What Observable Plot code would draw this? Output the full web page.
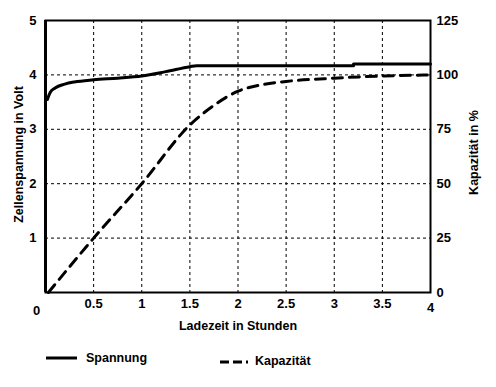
<!DOCTYPE html>
<html>
<head>
<meta charset="utf-8">
<script src="https://cdn.jsdelivr.net/npm/d3@7"></script>
<script src="https://cdn.jsdelivr.net/npm/@observablehq/plot@0.6"></script>
<style>
  body { margin: 0; background: #fff; }
  #chart { width: 496px; }
  .legend { position: relative; height: 52px; font: bold 12px "Liberation Sans", Arial, sans-serif; }
  .legend svg { position: absolute; left: 0; top: 0; }
</style>
</head>
<body>
<div id="chart"></div>
<script>
// Data
const spannungT = [0.02, 0.05, 0.1, 0.2, 0.3, 0.5, 0.75, 1.0, 1.25, 1.5, 1.57, 3.2, 3.2, 4.0];
const spannungV = [3.55, 3.68, 3.76, 3.83, 3.87, 3.91, 3.94, 3.98, 4.06, 4.15, 4.17, 4.17, 4.2, 4.2];
const kapazitaetT = [0.03, 0.5, 1.0, 1.5, 1.75, 2.0, 2.25, 2.5, 3.0, 3.5, 4.0];
const kapazitaetP = [0, 25, 50, 77, 86, 92.5, 95.5, 97, 98.5, 99.5, 100];
const xTicks = [0.5, 1, 1.5, 2, 2.5, 3, 3.5];
const yTicks = [1, 2, 3, 4, 5];
const pTicks = [0, 25, 50, 75, 100, 125];
const xLabel = "Ladezeit in Stunden";
const yLabel = "Zellenspannung in Volt";
const pLabel = "Kapazität in %";
const seriesNames = ["Spannung", "Kapazität"];

const volt = spannungT.map((t, i) => ({t, v: spannungV[i]}));
const kap = kapazitaetT.map((t, i) => ({t, p: kapazitaetP[i]}));
const pToV = p => p / 25; // 125 % maps to 5 V

const numFont = `"Liberation Sans Narrow", "Liberation Sans", Arial, sans-serif`;

const chart = Plot.plot({
  width: 496,
  height: 335,
  marginLeft: 45,
  marginRight: 66,
  marginTop: 20,
  marginBottom: 43,
  style: {fontFamily: `"Liberation Sans", Arial, sans-serif`, fontSize: "12px", fontWeight: "bold", color: "#000", background: "#fff"},
  x: {domain: [0, 4]},
  y: {domain: [0, 5]},
  marks: [
    Plot.gridX(xTicks, {stroke: "#000", strokeOpacity: 1, strokeDasharray: "3,3", strokeWidth: 1}),
    Plot.gridY([1, 2, 3, 4], {stroke: "#000", strokeOpacity: 1, strokeDasharray: "3,3", strokeWidth: 1}),
    Plot.line(kap, {x: "t", y: d => pToV(d.p), stroke: "#000", strokeWidth: 3, strokeDasharray: "10,7", curve: "monotone-x"}),
    Plot.line(volt, {x: "t", y: "v", stroke: "#000", strokeWidth: 3, curve: "monotone-x"}),
    Plot.frame({stroke: "#000", strokeWidth: 2}),
    Plot.ruleX([0], {stroke: "#000", strokeWidth: 3}),
    Plot.axisX(xTicks, {tickSize: 0, tickPadding: 6, tickFormat: d => String(d), fontFamily: numFont, fontSize: 13, label: null}),
    Plot.text([0], {x: d => d, y: 0, text: d => String(d), dx: -9, dy: 13, fontFamily: numFont, fontSize: 13, textAnchor: "middle", lineAnchor: "top", fontWeight: "bold"}),
    Plot.text([4], {x: d => d, y: 0, text: d => String(d), dy: 10, fontFamily: numFont, fontSize: 13, lineAnchor: "top", fontWeight: "bold"}),
    Plot.axisY(yTicks, {tickSize: 0, tickPadding: 9, tickFormat: d => String(d), fontFamily: numFont, fontSize: 13, label: null}),
    Plot.axisY(pTicks.map(pToV), {anchor: "right", tickSize: 0, tickPadding: 6, tickFormat: d => String(Math.round(d * 25)), fontFamily: numFont, fontSize: 13, label: null}),
    Plot.text([xLabel], {frameAnchor: "bottom", dy: 37, fontSize: 12.5, fontWeight: "bold", lineAnchor: "bottom"}),
    Plot.text([yLabel], {frameAnchor: "left", dx: -27, dy: -2, rotate: -90, textAnchor: "middle", fontSize: 12.5, fontWeight: "bold"}),
    Plot.text([pLabel], {frameAnchor: "right", dx: 43, dy: -4, rotate: -90, textAnchor: "middle", fontSize: 12.5, fontWeight: "bold"})
  ]
});

const root = document.getElementById("chart");
root.appendChild(chart);

// Legend below the chart
const legend = document.createElement("div");
legend.className = "legend";
legend.innerHTML = `<svg width="496" height="52">
  <line x1="46" x2="77" y1="23" y2="23" stroke="#000" stroke-width="3"/>
  <text x="86" y="27" font-family="Liberation Sans, Arial, sans-serif" font-size="12.5" font-weight="bold">${seriesNames[0]}</text>
  <line x1="220" x2="248" y1="27" y2="27" stroke="#000" stroke-width="3" stroke-dasharray="9,4"/>
  <text x="255" y="30" font-family="Liberation Sans, Arial, sans-serif" font-size="12.5" font-weight="bold">${seriesNames[1]}</text>
</svg>`;
root.appendChild(legend);
</script>
</body>
</html>
